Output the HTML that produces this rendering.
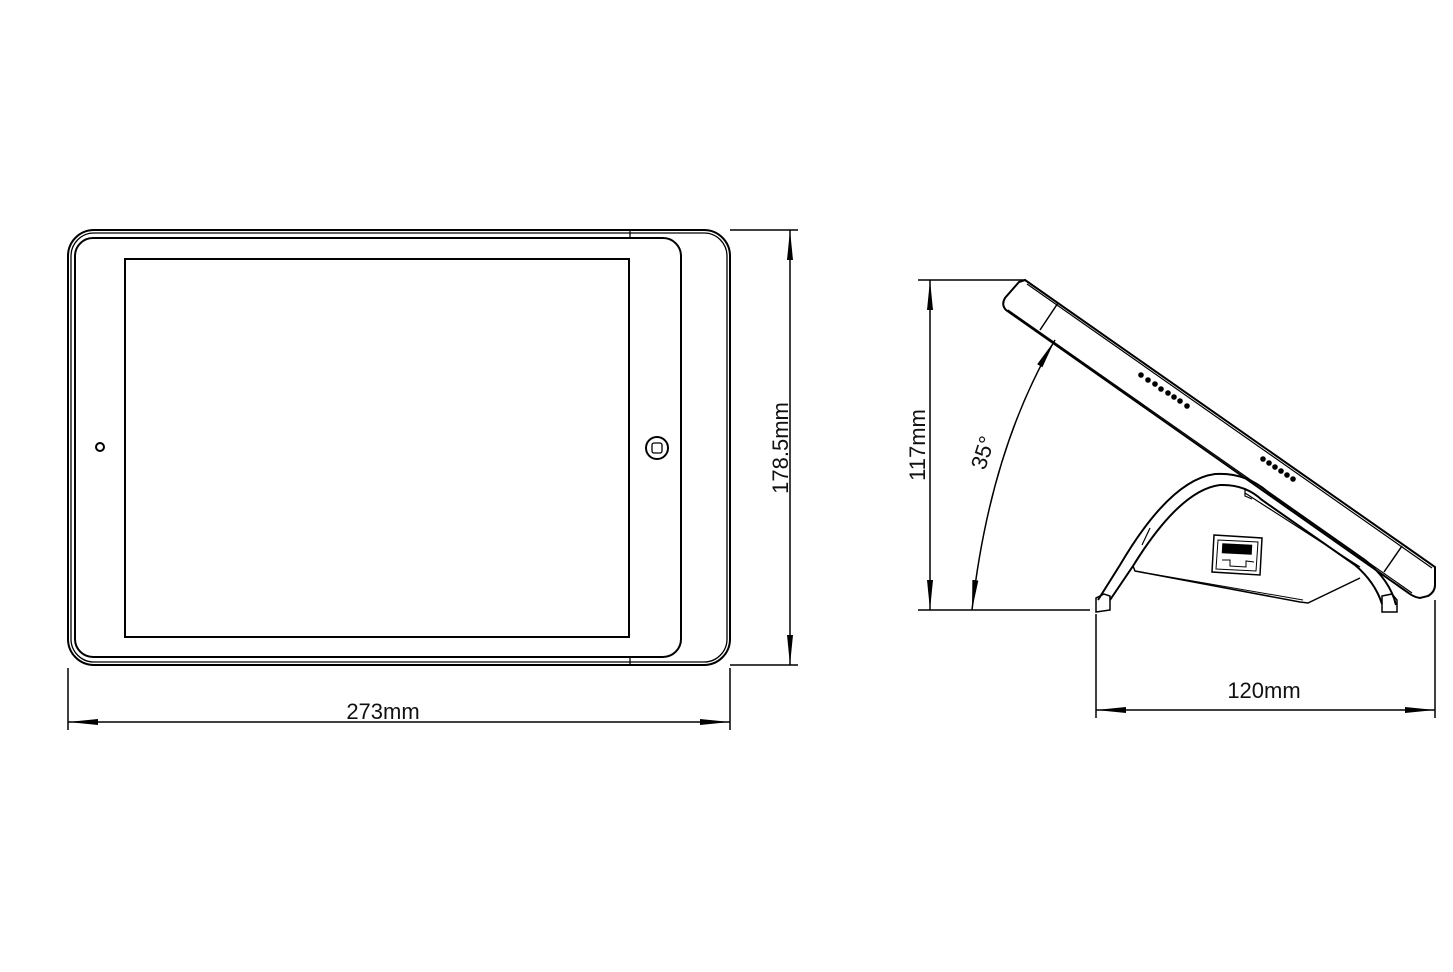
<!DOCTYPE html>
<html><head><style>html,body{margin:0;padding:0;background:#fff}svg{display:block}text{font-family:"Liberation Sans",Arial,sans-serif;font-size:22px;fill:#111}</style></head><body>
<svg width="1453" height="972" viewBox="0 0 1453 972" xmlns="http://www.w3.org/2000/svg">
<defs>
<marker id="a" viewBox="0 0 30 8" refX="30" refY="4" markerWidth="30" markerHeight="8" markerUnits="userSpaceOnUse" orient="auto-start-reverse"><path d="M0,1 L30,4 L0,7 Z" fill="#000"/></marker>
</defs>
<g fill="none" stroke="#000" stroke-width="2">
<rect x="68" y="230" width="662" height="435" rx="26"/>
<rect x="71" y="233" width="656" height="429" rx="23" stroke-width="1.3"/>
<rect x="75" y="238" width="606" height="419" rx="18"/>
<rect x="125" y="259" width="504" height="378"/>
<line x1="630" y1="230" x2="630" y2="238" stroke-width="1.3"/>
<line x1="630" y1="657" x2="630" y2="665" stroke-width="1.3"/>
<circle cx="100" cy="447" r="4"/>
<circle cx="657" cy="448" r="11"/>
<rect x="652" y="443" width="10" height="10" rx="2" stroke-width="1.3"/>
<g stroke-width="1.5">
<line x1="730" y1="230" x2="798" y2="230"/>
<line x1="730" y1="665" x2="798" y2="665"/>
<line x1="790" y1="230" x2="790" y2="665" marker-start="url(#a)" marker-end="url(#a)"/>
<line x1="68" y1="668" x2="68" y2="730"/>
<line x1="730" y1="668" x2="730" y2="730"/>
<line x1="68" y1="722" x2="730" y2="722" marker-start="url(#a)" marker-end="url(#a)"/>
</g>
<path d="M1025,280 L1435,567 L1435,585 Q1435,592 1428,596 L1420,598 Q1414,597 1410,594 L1006,310 Q1001,305 1005,298 L1019,282 Z"/>
<path d="M1008,310 L1412,593" stroke-width="1.2"/>
<path d="M1027,284 L1432,568" stroke-width="1.2"/>
<line x1="1058" y1="303" x2="1040" y2="330" stroke-width="1.5"/>
<line x1="1402" y1="546" x2="1384" y2="572" stroke-width="1.5"/>
<path d="M1098,600 L1120,565 Q1170,480 1215,474 Q1245,472 1268,492 L1365,560 Q1390,580 1396,605"/>
<path d="M1110,600 L1133,566 Q1180,490 1220,485 Q1245,484 1262,500 L1355,565 Q1375,582 1382,604"/>
<path d="M1096,612 L1096,598 L1104,594 L1110,596 L1110,610 Z" stroke-width="1.5"/>
<path d="M1382,612 L1382,596 L1392,594 L1397,600 L1397,612 Z" stroke-width="1.5"/>
<path d="M1133,566 L1135,571 L1300,602 L1308,603 L1360,578" stroke-width="1.5"/>
<path d="M1135,571 L1303,600" stroke-width="1"/>
<path d="M1245,493 L1360,567" stroke-width="1.2"/>
<path d="M1245,488 L1245,496 L1252,499" stroke-width="1.2"/>
<path d="M1142,545 L1150,528" stroke-width="1.2"/>
<path d="M1214,535 L1262,538 L1260,575 L1212,572 Z" stroke-width="1.5"/>
<path d="M1218,540 L1258,542 L1256,571 L1216,569 Z" stroke-width="1"/>
<path d="M1222,560 L1230,560 L1230,566 L1246,567 L1246,561 L1254,562" stroke-width="1"/>
<g stroke-width="1.5">
<line x1="918" y1="280" x2="1025" y2="280"/>
<line x1="918" y1="610" x2="1090" y2="610"/>
<line x1="930" y1="280" x2="930" y2="610" marker-start="url(#a)" marker-end="url(#a)"/>
<path d="M972,610 Q990,450 1055,340" marker-start="url(#a)" marker-end="url(#a)"/>
<line x1="1096" y1="614" x2="1096" y2="718"/>
<line x1="1435" y1="600" x2="1435" y2="718"/>
<line x1="1096" y1="710" x2="1435" y2="710" marker-start="url(#a)" marker-end="url(#a)"/>
</g>
</g>
<g fill="#000">
<circle cx="1141" cy="375" r="2.8"/><circle cx="1148" cy="380" r="2.8"/><circle cx="1155" cy="384" r="2.8"/><circle cx="1161" cy="389" r="2.8"/><circle cx="1168" cy="393" r="2.8"/><circle cx="1174" cy="397" r="2.8"/><circle cx="1180" cy="401" r="2.8"/><circle cx="1187" cy="406" r="2.8"/>
<circle cx="1263" cy="459" r="2.8"/><circle cx="1269" cy="463" r="2.8"/><circle cx="1275" cy="467" r="2.8"/><circle cx="1281" cy="471" r="2.8"/><circle cx="1287" cy="475" r="2.8"/><circle cx="1293" cy="479" r="2.8"/>
</g>
<rect x="1222" y="544" width="30" height="10" fill="#000" transform="rotate(3 1237 549)"/>
<text x="383" y="719" text-anchor="middle">273mm</text>
<text transform="translate(788,448) rotate(-90)" text-anchor="middle">178.5mm</text>
<text transform="translate(925,445) rotate(-90)" text-anchor="middle">117mm</text>
<text transform="translate(990,455) rotate(-72)" text-anchor="middle">35°</text>
<text x="1264" y="698" text-anchor="middle">120mm</text>
</svg>
</body></html>
